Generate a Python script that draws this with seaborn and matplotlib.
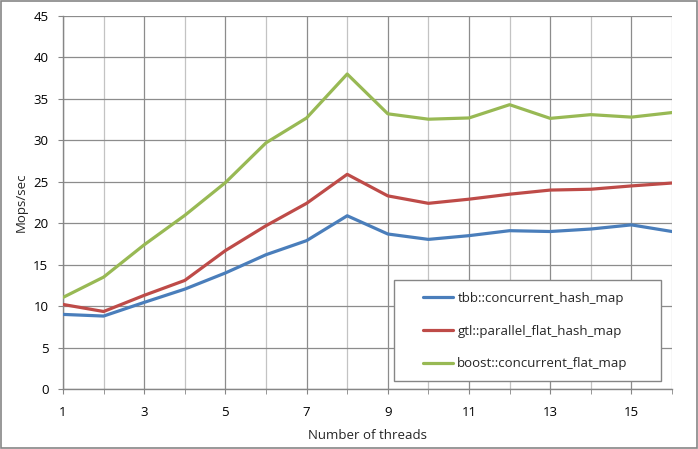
import numpy as np
import pandas as pd
import seaborn as sns
import matplotlib
matplotlib.use('Agg')
import matplotlib.pyplot as plt
from matplotlib.ticker import MultipleLocator, FixedLocator

# values
threads = list(range(1, 17))
tbb = [9.0, 8.8, 10.45, 12.05, 14.0, 16.2, 17.9, 20.9, 18.7, 18.05, 18.5, 19.1, 19.0, 19.3, 19.8, 19.0]
gtl = [10.2, 9.35, 11.3, 13.1, 16.7, 19.7, 22.4, 25.9, 23.3, 22.4, 22.9, 23.5, 24.0, 24.1, 24.5, 24.85]
boost = [11.05, 13.5, 17.4, 20.95, 24.9, 29.7, 32.7, 38.0, 33.2, 32.55, 32.7, 34.3, 32.65, 33.1, 32.8, 33.35]
names = ['tbb::concurrent_hash_map', 'gtl::parallel_flat_hash_map', 'boost::concurrent_flat_map']
colors = ['#4A7EBB', '#BE4B48', '#98B954']
xticks = [1, 3, 5, 7, 9, 11, 13, 15]

df = pd.DataFrame({
    'threads': threads * 3,
    'mops': tbb + gtl + boost,
    'map': [names[0]] * 16 + [names[1]] * 16 + [names[2]] * 16,
})

sns.set_style('white')
plt.rcParams['font.family'] = ['Open Sans', 'DejaVu Sans']
fs = 9.5

fig = plt.figure(figsize=(6.98, 4.49), dpi=100)
ax = fig.add_axes([63 / 698, 60 / 449, 609 / 698, 373 / 449])

sns.lineplot(data=df, x='threads', y='mops', hue='map', palette=colors,
             linewidth=2.3, ax=ax, zorder=3)

ax.set_xlim(1, 16)
ax.set_ylim(0, 45)
ax.xaxis.set_major_locator(FixedLocator(xticks))
ax.xaxis.set_minor_locator(FixedLocator([t for t in threads if t not in xticks]))
ax.yaxis.set_major_locator(MultipleLocator(5))

# grid like the Excel original
ax.grid(which='major', axis='both', color='#8c8c8c', linewidth=0.9)
ax.grid(which='minor', axis='x', color='#c3c3c3', linewidth=0.9)
ax.set_axisbelow(True)

for side in ['top', 'right']:
    ax.spines[side].set_visible(False)
for side in ['left', 'bottom']:
    ax.spines[side].set_color('#868686')
    ax.spines[side].set_linewidth(1)

ax.tick_params(which='both', direction='out', color='#868686', labelsize=fs,
               labelcolor='black', bottom=True, left=True, length=3.5)
ax.tick_params(axis='x', which='major', pad=9)
ax.tick_params(axis='y', which='major', pad=7)

ax.set_xlabel('Number of threads', fontsize=fs, labelpad=7)
ax.set_ylabel('Mops/sec', fontsize=fs, labelpad=4)

handles, labels = ax.get_legend_handles_labels()
ax.get_legend().remove()
leg = fig.legend(handles, labels, loc='center left',
                 bbox_to_anchor=(423 / 698, 118 / 449), frameon=False,
                 fontsize=fs, labelspacing=1.5, handlelength=2.3,
                 handletextpad=0.3, borderpad=0, borderaxespad=0)
for h in leg.legend_handles:
    h.set_linewidth(2.3)

# legend box drawn to match the wide Excel frame
fig.patches.append(plt.Rectangle((394 / 698, 68 / 449), 267 / 698, 101 / 449,
                                 transform=fig.transFigure, facecolor='white',
                                 edgecolor='#868686', linewidth=1, zorder=5))
leg.set_zorder(6)

# outer chart border
fig.patches.append(plt.Rectangle((0.001, 0.002), 0.997, 0.996, transform=fig.transFigure,
                                 fill=False, edgecolor='#868686', linewidth=1.2))

fig.savefig('out.png', dpi=100)
